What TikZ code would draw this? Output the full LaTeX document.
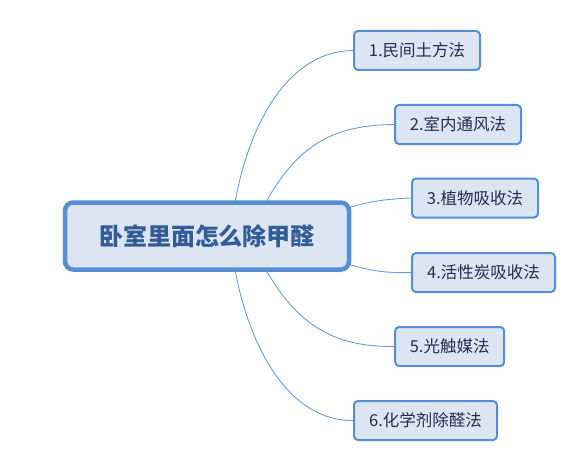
\documentclass[tikz,border=0pt]{standalone}
\usepackage{fontspec}
\newfontfamily\cjk{Noto Sans CJK SC}
\definecolor{bordc}{HTML}{558ED5}
\definecolor{fillc}{HTML}{DCE6F2}
\definecolor{linec}{HTML}{6A9BD8}
\definecolor{maintext}{HTML}{335C96}
\definecolor{subtext}{HTML}{1F2F4F}
\tikzset{
  topic/.style={draw=bordc, fill=fillc, line width=4.5pt, rounded corners=8pt,
    minimum width=284pt, minimum height=67pt, inner sep=0pt,
    font=\cjk\bfseries\fontsize{24}{26}\selectfont, text=maintext},
  subtopic/.style={draw=bordc, fill=fillc, line width=2pt, rounded corners=4pt,
    minimum height=39pt, inner sep=0pt,
    font=\cjk\fontsize{16.5}{18}\selectfont, text=subtext},
  branch/.style={draw=linec, line width=0.9pt}
}
\begin{document}
\begin{tikzpicture}[x=1pt,y=-1pt]
\useasboundingbox (0,0) rectangle (568,460);
\node[topic] (c) at (207,236) {卧室里面怎么除甲醛};
\node[subtopic, minimum width=126pt] (n1) at (417,50.5) {1.民间土方法};
\node[subtopic, minimum width=126pt] (n2) at (458,124.5) {2.室内通风法};
\node[subtopic, minimum width=126pt] (n3) at (475,198) {3.植物吸收法};
\node[subtopic, minimum width=143pt] (n4) at (483.5,272.5) {4.活性炭吸收法};
\node[subtopic, minimum width=109pt] (n5) at (449.7,346.5) {5.光触媒法};
\node[subtopic, minimum width=143pt] (n6) at (425.5,420.5) {6.化学剂除醛法};
\begin{scope}[on background layer/.style={}]
\draw[branch] ([xshift=28pt,yshift=-2pt]c.north) .. controls (250,120) and (290,51) .. (n1.west);
\draw[branch] ([xshift=59pt,yshift=-2pt]c.north) .. controls (300,140) and (340,125) .. (n2.west);
\draw[branch] ([xshift=-1pt,yshift=-7pt]c.north east) .. controls (375,200) and (390,199) .. (n3.west);
\draw[branch] ([xshift=-1pt,yshift=7pt]c.south east) .. controls (375,272) and (390,273) .. (n4.west);
\draw[branch] ([xshift=59pt,yshift=2pt]c.south) .. controls (300,330) and (340,347) .. (n5.west);
\draw[branch] ([xshift=28pt,yshift=2pt]c.south) .. controls (250,350) and (290,421) .. (n6.west);
\end{scope}
\end{tikzpicture}
\end{document}
